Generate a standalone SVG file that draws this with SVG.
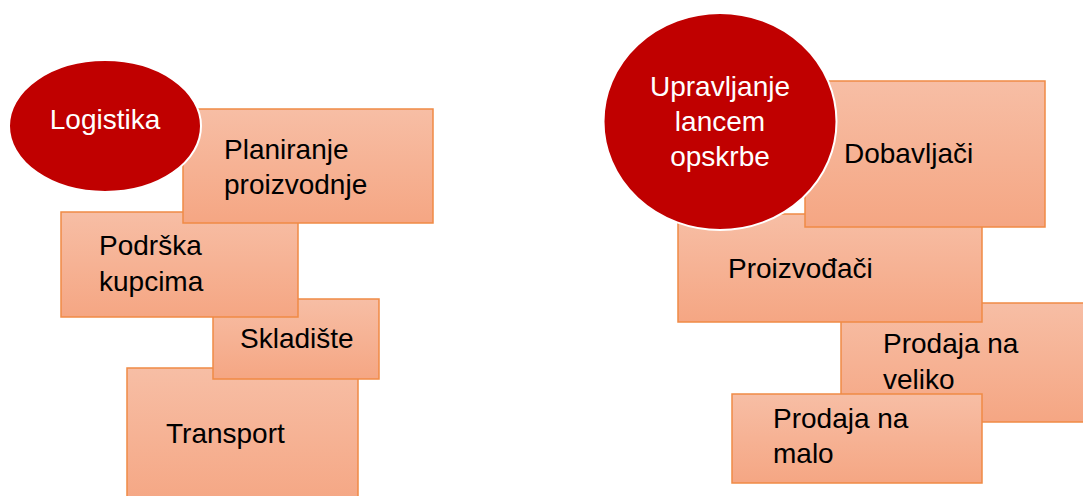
<svg xmlns="http://www.w3.org/2000/svg" width="1083" height="496" viewBox="0 0 1083 496">
<defs>
<linearGradient id="g" x1="0" y1="0" x2="0" y2="1">
<stop offset="0" stop-color="#F7BEA5"/>
<stop offset="1" stop-color="#F5A683"/>
</linearGradient>
<style>
.box{fill:url(#g);stroke:#F08A45;stroke-width:1.5}
.hub{fill:#C00000;stroke:#FFFFFF;stroke-width:2}
.t{font-family:"Liberation Sans",Arial,sans-serif;font-size:28px;fill:#000}
.w{font-family:"Liberation Sans",Arial,sans-serif;font-size:28px;fill:#FFFFFF;text-anchor:middle}
</style>
</defs>
<rect width="1083" height="496" fill="#FFFFFF"/>
<g id="connectors"></g>
<g id="n-transport"><rect class="box" x="127" y="368" width="231" height="140"/><text class="t" x="166" y="443">Transport</text></g>
<g id="n-skladiste"><rect class="box" x="213" y="299" width="166" height="80"/><text class="t" x="240" y="348">Skladište</text></g>
<g id="n-podrska"><rect class="box" x="61" y="212" width="237" height="105"/><text class="t" x="99" y="255">Podrška</text><text class="t" x="99" y="291">kupcima</text></g>
<g id="n-planiranje"><rect class="box" x="183" y="109" width="250" height="114"/><text class="t" x="224" y="159">Planiranje</text><text class="t" x="224" y="194">proizvodnje</text></g>
<g id="n-logistika"><ellipse class="hub" cx="105" cy="126" rx="96" ry="66"/><text class="w" x="105" y="129">Logistika</text></g>
<g id="n-veliko"><rect class="box" x="841" y="303" width="250" height="119"/><text class="t" x="883" y="353">Prodaja na</text><text class="t" x="883" y="389">veliko</text></g>
<g id="n-malo"><rect class="box" x="732" y="394" width="250" height="89"/><text class="t" x="773" y="428">Prodaja na</text><text class="t" x="773" y="463">malo</text></g>
<g id="n-proizvodjaci"><rect class="box" x="678" y="214" width="304" height="108"/><text class="t" x="728" y="278">Proizvođači</text></g>
<g id="n-dobavljaci"><rect class="box" x="805" y="81" width="240" height="146"/><text class="t" x="844" y="163">Dobavljači</text></g>
<g id="n-upravljanje"><ellipse class="hub" cx="720" cy="121.5" rx="116.5" ry="108.5"/><text class="w" x="720" y="96">Upravljanje</text><text class="w" x="720" y="131">lancem</text><text class="w" x="720" y="166">opskrbe</text></g>
</svg>
